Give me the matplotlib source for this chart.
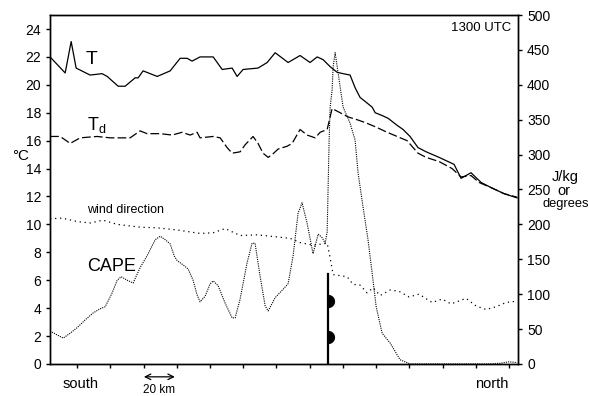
import matplotlib.pyplot as plt
import numpy as np

plt.rcParams['font.family'] = ['Liberation Sans', 'DejaVu Sans']

# distance along the transect (km) and readings
t_km = np.array([-16.3, -7.2, -3.6, -0.6, 7.8, 15.0, 18.1, 24.7, 28.9, 34.9, 36.7, 39.7,
                 48.2, 56.0, 62.0, 66.2, 69.2, 74.0, 81.9, 87.3, 93.3, 96.3, 99.9, 108.9,
                 114.4, 119.2, 127.0, 134.2, 140.2, 144.5, 148.1, 152.3, 156.5, 160.1,
                 164.3, 167.3, 170.3, 174.5, 177.6, 179.4, 183.6, 187.2, 192.6, 196.2,
                 200.4, 205.2, 210.1, 217.9, 226.9, 231.1, 237.1, 243.2, 249.8, 257.0,
                 264.8])
t_val = np.array([22.0, 20.85, 23.1, 21.2, 20.7, 20.8, 20.6, 19.9, 19.9, 20.5, 20.5, 21.0,
                  20.6, 21.0, 21.9, 21.9, 21.7, 22.0, 22.0, 21.1, 21.2, 20.6, 21.1, 21.2,
                  21.6, 22.3, 21.6, 22.1, 21.6, 22.0, 21.8, 21.3, 20.9, 20.8,
                  20.7, 19.8, 19.1, 18.7, 18.4, 18.0, 17.8, 17.6, 17.1, 16.8,
                  16.3, 15.5, 15.2, 14.8, 14.3, 13.3, 13.7, 13.0, 12.6, 12.2,
                  11.9])

td_km = np.array([-16.3, -10.2, -4.2, 1.8, 12.0, 19.9, 31.9, 37.9, 42.1, 50.0, 57.2, 63.2,
                  68.0, 72.2, 74.0, 81.9, 86.1, 90.3, 93.3, 98.1, 101.1, 105.9, 108.9,
                  111.9, 115.0, 117.4, 121.0, 126.4, 129.4, 134.2, 138.4, 143.3, 146.3,
                  150.5, 153.5, 158.3, 163.1, 168.5, 173.3, 179.4, 186.6, 192.6, 198.6,
                  205.2, 210.1, 217.9, 225.7, 231.1, 237.1, 242.0, 249.8, 257.0, 264.8])
td_val = np.array([16.3, 16.3, 15.8, 16.2, 16.3, 16.2, 16.2, 16.7, 16.5, 16.5, 16.4, 16.6,
                   16.4, 16.6, 16.2, 16.3, 16.2, 15.5, 15.1, 15.2, 15.7, 16.3, 15.8,
                   15.1, 14.8, 15.0, 15.4, 15.6, 15.8, 16.8, 16.4, 16.2, 16.6,
                   16.8, 18.3, 18.0, 17.7, 17.5, 17.3, 17.0, 16.6, 16.3, 16.0,
                   15.1, 14.8, 14.5, 14.0, 13.4, 13.5, 13.0, 12.6, 12.2, 11.95])

wd_km = np.array([-16.3, -9.0, 0.0, 7.8, 15.6, 24.1, 37.9, 48.2, 60.2, 74.0, 81.9, 89.1,
                  98.1, 108.3, 120.4, 128.2, 134.2, 142.0, 150.5, 152.3, 154.1, 162.5,
                  166.1, 170.3, 174.5, 178.2, 182.4, 188.4, 193.8, 199.8, 205.8, 213.7,
                  219.7, 225.1, 234.1, 240.2, 246.2, 252.2, 258.2, 264.8])
wd_deg = np.array([208, 209, 204, 202, 206, 200, 196, 195, 192, 187, 188, 194,
                   184, 185, 182, 180, 174, 170, 173, 152, 128, 125,
                   114, 113, 102, 109, 98, 106, 104, 96, 100, 88,
                   93, 86, 94, 83, 78, 82, 88, 90])

cape_km = np.array([-16.3, -8.4, -4.2, 0.0, 4.8, 9.6, 13.8, 16.9, 21.1, 24.1, 26.5, 30.1,
                    33.7, 37.9, 42.1, 47.0, 50.0, 53.0, 56.0, 58.4, 60.2, 63.8, 66.8,
                    69.8, 72.2, 74.0, 77.0, 80.1, 81.9, 84.9, 89.1, 93.3, 95.1, 98.1,
                    102.3, 105.3, 107.1, 110.1, 113.2, 115.0, 119.2, 124.0, 127.0, 130.0,
                    133.0, 135.4, 138.4, 142.0, 145.1, 147.5, 149.3, 150.5, 151.7, 152.3,
                    153.5, 154.1, 155.3, 157.1, 160.1, 164.3, 167.3, 169.1, 172.1, 175.1,
                    177.6, 180.0, 183.6, 188.4, 194.4, 200.4, 248.0, 255.0, 260.0, 264.8])
cape_val = np.array([47, 37, 44, 52, 63, 73, 79, 82, 102, 120, 125, 120,
                     116, 138, 155, 178, 183, 178, 172, 155, 148, 142, 136,
                     120, 99, 89, 97, 115, 119, 112, 87, 66, 66, 93,
                     145, 173, 173, 126, 83, 76, 95, 107, 115, 155,
                     216, 231, 202, 158, 186, 181, 173, 189, 321, 368,
                     393, 426, 446, 417, 368, 345, 321, 274, 225, 178,
                     130, 82, 44, 30, 6, 0, 0, 1, 3, 2])

# surface front position and symbol heights (deg C)
front_km = 151.1
front_top = 6.45
bulb_heights = [4.48, 1.94]

# half-disc marker bulging to the right (warm-front style bump)
ang = np.linspace(-np.pi / 2, np.pi / 2, 25)
half_disc = list(zip(np.cos(ang), np.sin(ang))) + [(0, -1)]

fig, ax = plt.subplots(figsize=(5.89, 3.96), dpi=100)
fig.subplots_adjust(left=0.085, right=0.8795, bottom=0.081, top=0.962)
ax2 = ax.twinx()

ax.plot(t_km, t_val, color='black', lw=0.9)
ax.plot(td_km, td_val, color='black', lw=0.9, dashes=(7, 2.5))
ax2.plot(wd_km, wd_deg, color='black', lw=0.9, linestyle=(0, (1, 3)))
ax2.plot(cape_km, cape_val, color='black', lw=0.8, linestyle=(0, (1, 1)))

ax.plot([front_km, front_km], [0, front_top], color='black', lw=1.6)
ax.plot([front_km] * len(bulb_heights), bulb_heights, linestyle='none', marker=half_disc,
        markersize=9.5, markerfacecolor='black', markeredgewidth=0)

ax.set_xlim(-16.3, 265.4)
ax.set_ylim(0, 25)
ax2.set_ylim(0, 500)
ax.set_xticks(np.arange(0, 261, 20))
ax.set_xticklabels([])
ax.set_yticks(np.arange(0, 25, 2))
ax2.set_yticks(np.arange(0, 501, 50))
ax.tick_params(axis='both', direction='out', length=3, width=1, labelsize=10)
ax2.tick_params(axis='y', direction='out', length=3, width=1, labelsize=10)
for a in (ax, ax2):
    for s in a.spines.values():
        s.set_linewidth(1.0)

fig.text(21 / 589, 1 - 156 / 396, '°C', fontsize=11, ha='center', va='center')
fig.text(565 / 589, 1 - 177 / 396, 'J/kg', fontsize=10.5, ha='center', va='center')
fig.text(564 / 589, 1 - 191 / 396, 'or', fontsize=10.5, ha='center', va='center')
fig.text(566 / 589, 1 - 204 / 396, 'degrees', fontsize=9.3, ha='center', va='center')

ax.text(8.4, 21.8, 'T', fontsize=14, ha='center', va='center')
ax.text(12, 17.1, r'T$_\mathregular{d}$', fontsize=13, ha='center', va='center')
ax.text(29.2, 11.0, 'wind direction', fontsize=9, ha='center', va='center')
ax.text(20.9, 7.0, 'CAPE', fontsize=13, ha='center', va='center')
ax.text(0.985, 0.962, '1300 UTC', transform=ax.transAxes, fontsize=9.5, ha='right', va='center')

trans = ax.get_xaxis_transform()
ax.text(1.8, -0.057, 'south', transform=trans, fontsize=10.5, ha='center', va='center')
ax.text(249.8, -0.057, 'north', transform=trans, fontsize=10.5, ha='center', va='center')
ax.annotate('', xy=(38.5, -0.037), xytext=(60.5, -0.037), xycoords=trans, textcoords=trans,
            arrowprops=dict(arrowstyle='<->', color='black', lw=0.9), annotation_clip=False)
ax.text(49.5, -0.074, '20 km', transform=trans, fontsize=8.5, ha='center', va='center')

fig.savefig('out.png', dpi=100)
